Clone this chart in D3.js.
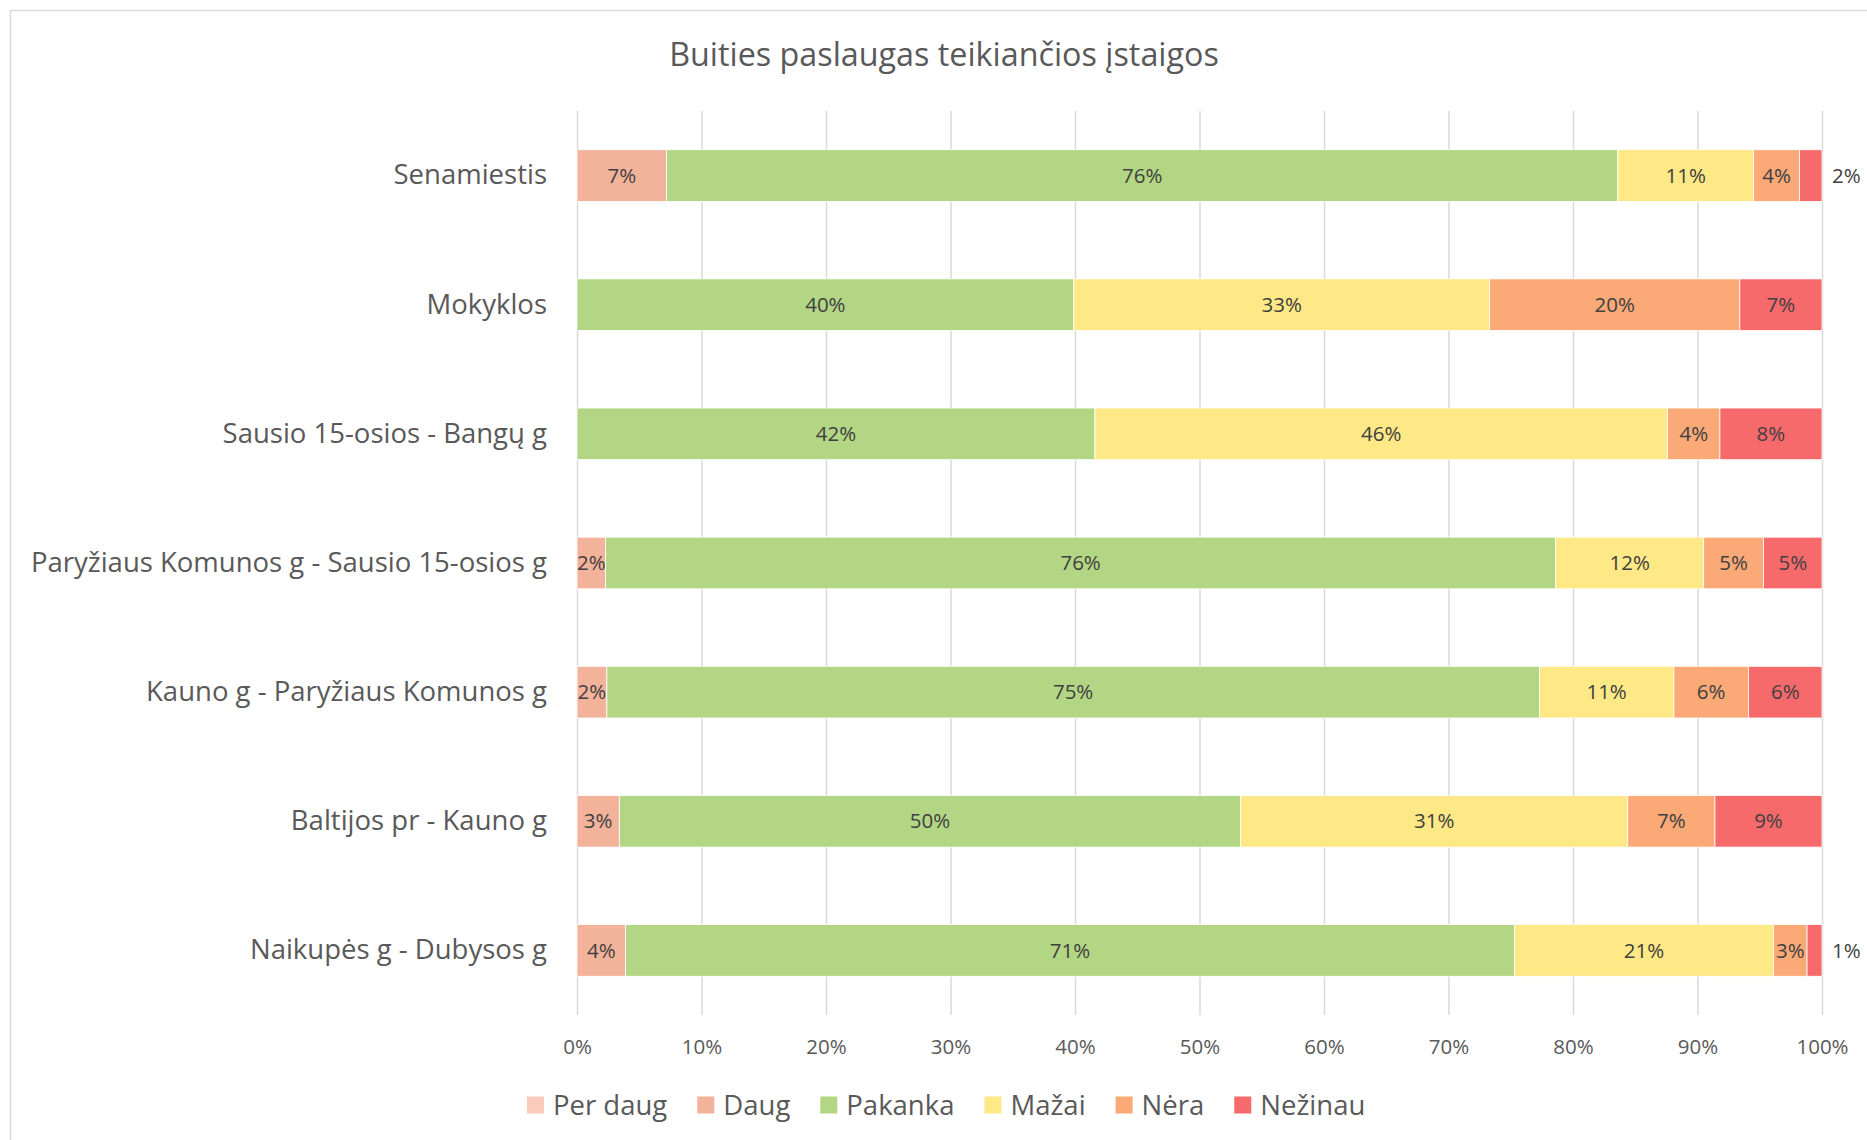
<!DOCTYPE html>
<html>
<head>
<meta charset="utf-8">
<script src="https://cdn.jsdelivr.net/npm/d3@7"></script>
<style>
  body { margin: 0; background: #fff; }
  text { font-family: "Open Sans", sans-serif; }
</style>
</head>
<body>
<div id="chart"></div>
<script>
var categories = ["Senamiestis", "Mokyklos", "Sausio 15-osios - Bangų g",
  "Paryžiaus Komunos g - Sausio 15-osios g", "Kauno g - Paryžiaus Komunos g",
  "Baltijos pr - Kauno g", "Naikupės g - Dubysos g"];
var seriesNames = ["Per daug", "Daug", "Pakanka", "Mažai", "Nėra", "Nežinau"];
var perDaug = [0, 0, 0, 0, 0, 0, 0];
var daug    = [7.2, 0, 0, 2.3, 2.4, 3.4, 3.9];
var pakanka = [76.4, 39.9, 41.6, 76.3, 74.9, 49.9, 71.4];
var mazai   = [10.9, 33.4, 46.0, 11.9, 10.8, 31.1, 20.8];
var nera    = [3.7, 20.1, 4.2, 4.8, 6.0, 7.0, 2.7];
var nezinau = [1.8, 6.6, 8.2, 4.7, 5.9, 8.6, 1.2];
var ticks = [0, 10, 20, 30, 40, 50, 60, 70, 80, 90, 100];
var colors = ["#F8CBBD", "#F3B29A", "#B3D684", "#FFE886", "#FAA977", "#F76A6C"];

var W = 1867, H = 1140;
var plotLeft = 577, plotRight = 1822, plotTop = 111, plotBottom = 1015;

var svg = d3.select("#chart").append("svg")
    .attr("width", W)
    .attr("height", H);

// chart frame
svg.append("rect")
    .attr("x", 10.5).attr("y", 10.5)
    .attr("width", W).attr("height", H)
    .attr("fill", "none")
    .attr("stroke", "#d9d9d9")
    .attr("stroke-width", 1.5);

svg.append("text")
    .attr("x", 944).attr("y", 66)
    .attr("text-anchor", "middle")
    .attr("fill", "#595959")
    .style("font-size", "32.3px")
    .text("Buities paslaugas teikiančios įstaigos");

var x = d3.scaleLinear().domain([0, 100]).range([plotLeft, plotRight]);
var y = d3.scaleBand().domain(categories).range([plotTop, plotBottom]).paddingInner(0.6).paddingOuter(0.3);

var rows = categories.map(function(c, i) {
  return {cat: c, "Per daug": perDaug[i], "Daug": daug[i], "Pakanka": pakanka[i],
          "Mažai": mazai[i], "Nėra": nera[i], "Nežinau": nezinau[i]};
});
var stack = d3.stack().keys(seriesNames)(rows);

// gridlines
svg.append("g")
    .attr("transform", "translate(0," + plotBottom + ")")
    .call(d3.axisBottom(x).tickValues(ticks).tickSize(-(plotBottom - plotTop)).tickFormat(""))
    .call(function(g) {
      g.select(".domain").remove();
      g.selectAll("line").attr("stroke", "#d9d9d9").attr("stroke-width", 1.5);
    });

// x tick labels
svg.append("g")
    .attr("transform", "translate(0," + plotBottom + ")")
    .call(d3.axisBottom(x).tickValues(ticks).tickSize(0).tickPadding(24).tickFormat(function(d) { return d + "%"; }))
    .call(function(g) {
      g.select(".domain").remove();
      g.selectAll("text").attr("fill", "#595959").style("font-size", "20.5px");
    });

// category labels
svg.append("g")
    .attr("transform", "translate(" + plotLeft + ",0)")
    .call(d3.axisLeft(y).tickSize(0).tickPadding(30))
    .call(function(g) {
      g.select(".domain").remove();
      g.selectAll("text").attr("fill", "#595959").style("font-size", "27.5px");
    });

var layers = svg.selectAll(".layer")
    .data(stack)
  .enter().append("g")
    .attr("class", "layer")
    .attr("fill", function(d, i) { return colors[i]; });

layers.selectAll("rect")
    .data(function(d) { return d; })
  .enter().append("rect")
    .attr("x", function(d) { return x(d[0]); })
    .attr("y", function(d) { return y(d.data.cat); })
    .attr("width", function(d) { return x(d[1]) - x(d[0]); })
    .attr("height", y.bandwidth())
    .attr("stroke", "#fff")
    .attr("stroke-width", 0.8);

// value labels, the thin last slice is labelled outside the bar
function outside(d) { return d.key == "Nežinau" && d[1] - d[0] < 3; }

layers.selectAll(".val")
    .data(function(d) { return d.map(function(p) { p.key = d.key; return p; }); })
  .enter().filter(function(d) { return d[1] - d[0] > 0; })
  .append("text")
    .attr("class", "val")
    .attr("x", function(d) { return outside(d) ? x(100) + 10 : (x(d[0]) + x(d[1])) / 2; })
    .attr("y", function(d) { return y(d.data.cat) + y.bandwidth() / 2; })
    .attr("dy", "0.35em")
    .attr("text-anchor", function(d) { return outside(d) ? "start" : "middle"; })
    .attr("fill", "#404040")
    .style("font-size", "20.5px")
    .text(function(d) { return Math.round(d[1] - d[0]) + "%"; });

// legend
var legend = svg.append("g").attr("transform", "translate(527,1105)");
var lx = 0;
seriesNames.forEach(function(name, i) {
  var item = legend.append("g").attr("transform", "translate(" + lx + ",0)");
  item.append("rect")
      .attr("x", 0).attr("y", -8.5)
      .attr("width", 17).attr("height", 17)
      .attr("fill", colors[i]);
  var t = item.append("text")
      .attr("x", 26).attr("y", 0)
      .attr("dy", "0.35em")
      .attr("fill", "#595959")
      .style("font-size", "27.5px")
      .text(name);
  lx += 26 + t.node().getComputedTextLength() + 30;
});
</script>
</body>
</html>
